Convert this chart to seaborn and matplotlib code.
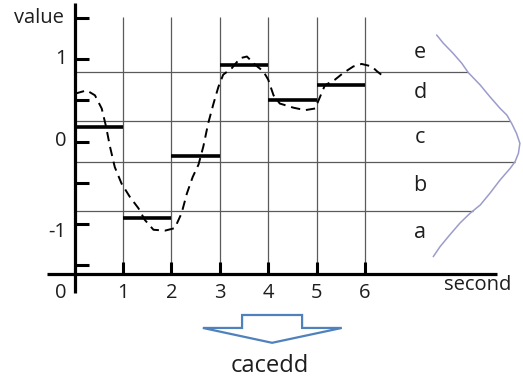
import numpy as np
import pandas as pd
import matplotlib
matplotlib.use("Agg")
import matplotlib.pyplot as plt
from matplotlib.patches import Polygon
import seaborn as sns

# ---------------- data ----------------
curve_t = [0.01, 0.25, 0.42, 0.56, 0.65, 0.73, 0.83, 0.97, 1.14, 1.32, 1.45, 1.63, 1.87,
           2.07, 2.21, 2.32, 2.44, 2.56, 2.66, 2.76, 2.87, 2.97, 3.07, 3.25, 3.42, 3.56,
           3.73, 3.90, 4.00, 4.11, 4.24, 4.52, 4.76, 4.97, 5.07, 5.17, 5.38, 5.55, 5.76,
           5.93, 6.14, 6.25, 6.38]
curve_v = [0.58, 0.62, 0.56, 0.40, 0.18, -0.06, -0.31, -0.51, -0.67, -0.81, -0.95, -1.07, -1.08,
           -1.05, -0.87, -0.63, -0.43, -0.28, -0.06, 0.22, 0.46, 0.66, 0.81, 0.89, 1.01, 1.03,
           0.93, 0.85, 0.75, 0.56, 0.46, 0.41, 0.38, 0.40, 0.54, 0.68, 0.75, 0.83, 0.91,
           0.94, 0.91, 0.85, 0.79]

segment_start = [0, 1, 2, 3, 4, 5]
segment_value = [0.17, -0.93, -0.18, 0.93, 0.50, 0.68]

breakpoints = [0.84, 0.25, -0.25, -0.84]
symbols = ["e", "d", "c", "b", "a"]
symbol_v = [1.08, 0.59, 0.05, -0.53, -1.10]

bell_v = [1.291, 1.19, 1.069, 0.948, 0.838, 0.685, 0.543, 0.402, 0.321, 0.22, 0.099,
          -0.022, -0.143, -0.245, -0.325, -0.467, -0.628, -0.77, -0.87, -0.99, -1.133,
          -1.275, -1.396]
bell_t = [7.48, 7.62, 7.82, 8.00, 8.13, 8.38, 8.58, 8.79, 8.93, 9.03, 9.13,
          9.20, 9.17, 9.10, 9.00, 8.79, 8.58, 8.38, 8.17, 7.96, 7.75,
          7.55, 7.41]

x_ticks = [1, 2, 3, 4, 5, 6]
x_tick_labels = ["1", "2", "3", "4", "5", "6"]
y_ticks = [1.5, 1.0, 0.5, 0.0, -0.5, -1.0, -1.5]
y_tick_labels = ["1", "0", "-1"]
y_label_values = [1.0, 0.0, -1.1]

word = "cacedd"

# ---------------- figure ----------------
sns.set_theme(style="white")
plt.rcParams["font.family"] = ["Open Sans", "DejaVu Sans"]

W, H = 523, 383
fig = plt.figure(figsize=(W / 100, H / 100), dpi=100)
ax = fig.add_axes([0, 0, 1, 1])
ax.set_axis_off()
PX_T = 48.4   # pixels per second
PX_V = 82.5   # pixels per value unit
X0, Y0 = 74.6, 141.5
ax.set_xlim(-X0 / PX_T, (W - X0) / PX_T)
ax.set_ylim((Y0 - H) / PX_V, Y0 / PX_V)

txt = "#1e1e1e"
grid_c = "#5a5a5a"
x_axis_v = -1.606

# vertical grid lines
ax.vlines(x_ticks, x_axis_v, 1.51, color=grid_c, lw=0.9, zorder=1)

# breakpoint lines, ending on the bell curve
bv = np.array(bell_v)
bt = np.array(bell_t)
for bp in breakpoints:
    if bp > 0:
        sel = bv >= -0.03
    else:
        sel = bv <= 0.0
    o = np.argsort(bv[sel])
    t_end = np.interp(bp, bv[sel][o], bt[sel][o])
    ax.hlines(bp, 0, t_end, color=grid_c, lw=0.9, zorder=1)

# bell curve
bell_df = pd.DataFrame({"t": bell_t, "v": bell_v})
sns.lineplot(data=bell_df, x="t", y="v", sort=False, estimator=None, ax=ax,
             color="#9c9ccc", lw=1.1, zorder=2)

# dashed series
curve_df = pd.DataFrame({"t": curve_t, "v": curve_v})
sns.lineplot(data=curve_df, x="t", y="v", sort=False, estimator=None, ax=ax,
             color="black", lw=1.4, linestyle=(0, (4.8, 3.0)), zorder=3)

# PAA segments
ax.hlines(segment_value, segment_start, [s + 1 for s in segment_start],
          color="black", lw=2.6, zorder=4)

# axes lines
ax.plot([-0.57, 8.73], [x_axis_v, x_axis_v], color="black", lw=2.3, solid_capstyle="butt", zorder=5)
ax.plot([0, 0], [-1.84, 1.68], color="black", lw=2.3, solid_capstyle="butt", zorder=5)
ax.hlines(y_ticks, 0, 0.29, color="black", lw=2.2, zorder=5)
ax.vlines(x_ticks, x_axis_v, -1.46, color="black", lw=2.2, zorder=5)

# tick labels
fs = 14.5
for t, lab in zip(x_ticks, x_tick_labels):
    ax.text(t, -1.836, lab, ha="center", va="center", fontsize=fs, color=txt)
ax.text(-0.28, -1.836, "0", ha="center", va="center", fontsize=fs, color=txt)
for v, lab in zip(y_label_values, y_tick_labels):
    ax.text(-0.17, v, lab, ha="right", va="center", fontsize=fs, color=txt)

ax.text(-0.735, 1.50, "value", ha="center", va="center", fontsize=fs, color=txt)
ax.text(8.33, -1.74, "second", ha="center", va="center", fontsize=fs, color=txt)

for s, v in zip(symbols, symbol_v):
    ax.text(7.14, v, s, ha="center", va="center", fontsize=15.5, color=txt)

# arrow
arrow_pts = [(3.46, -2.103), (4.70, -2.103), (4.70, -2.26), (5.52, -2.26),
             (4.08, -2.44), (2.65, -2.26), (3.46, -2.26)]
ax.add_patch(Polygon(arrow_pts, closed=True, facecolor="white",
                     edgecolor="#4f81bd", lw=1.6, zorder=5))

ax.text(4.04, -2.72, word, ha="center", va="center", fontsize=17, color=txt)

fig.savefig("out.png", dpi=100)
